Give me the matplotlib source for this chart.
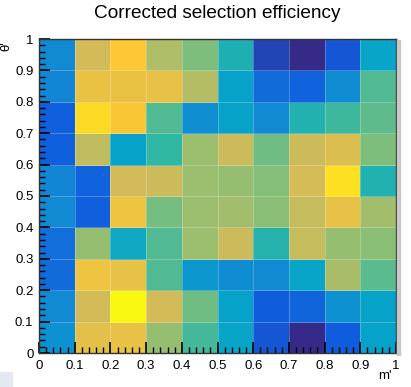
import numpy as np
import matplotlib
matplotlib.use("Agg")
import matplotlib.pyplot as plt
from matplotlib.colors import LinearSegmentedColormap
from matplotlib.ticker import MultipleLocator, FixedLocator
from matplotlib.patches import Rectangle

# ROOT kBird palette
bird_r = [0.2082, 0.0592, 0.0780, 0.0232, 0.1802, 0.5301, 0.8186, 0.9956, 0.9764]
bird_g = [0.1664, 0.3599, 0.5041, 0.6419, 0.7178, 0.7492, 0.7328, 0.7862, 0.9832]
bird_b = [0.5293, 0.8684, 0.8385, 0.7914, 0.6425, 0.4662, 0.3499, 0.1968, 0.0539]
stops = np.linspace(0, 1, 9)
cmap = LinearSegmentedColormap.from_list(
    "bird", list(zip(stops, zip(bird_r, bird_g, bird_b))), N=256)

m_edges = [0.0, 0.1, 0.2, 0.3, 0.4, 0.5, 0.6, 0.7, 0.8, 0.9, 1.0]
theta_edges = [0.0, 0.1, 0.2, 0.3, 0.4, 0.5, 0.6, 0.7, 0.8, 0.9, 1.0]

# rows: theta bins from bottom (0-0.1) to top (0.9-1.0); columns: m' bins
row0 = [0.31, 0.80, 0.81, 0.65, 0.53, 0.38, 0.11, 0.00, 0.13, 0.37]
row1 = [0.28, 0.75, 0.99, 0.75, 0.59, 0.37, 0.13, 0.16, 0.31, 0.37]
row2 = [0.18, 0.83, 0.81, 0.55, 0.33, 0.29, 0.28, 0.38, 0.68, 0.56]
row3 = [0.19, 0.65, 0.40, 0.55, 0.66, 0.74, 0.47, 0.73, 0.65, 0.63]
row4 = [0.28, 0.14, 0.83, 0.60, 0.66, 0.67, 0.63, 0.73, 0.81, 0.67]
row5 = [0.27, 0.15, 0.75, 0.74, 0.66, 0.65, 0.62, 0.76, 0.93, 0.46]
row6 = [0.14, 0.72, 0.37, 0.50, 0.66, 0.74, 0.59, 0.74, 0.78, 0.61]
row7 = [0.14, 0.92, 0.86, 0.55, 0.30, 0.37, 0.28, 0.46, 0.52, 0.57]
row8 = [0.27, 0.82, 0.82, 0.81, 0.70, 0.37, 0.18, 0.15, 0.29, 0.55]
row9 = [0.28, 0.75, 0.87, 0.69, 0.61, 0.45, 0.07, 0.00, 0.11, 0.38]

Z = np.array([row0, row1, row2, row3, row4, row5, row6, row7, row8, row9])

tick_vals = [0, 0.1, 0.2, 0.3, 0.4, 0.5, 0.6, 0.7, 0.8, 0.9, 1]
tick_labels = ["0", "0.1", "0.2", "0.3", "0.4", "0.5", "0.6", "0.7", "0.8", "0.9", "1"]

plt.rcParams['font.family'] = ['Liberation Sans', 'DejaVu Sans']

fig = plt.figure(figsize=(4.11, 3.87), dpi=100)
ax = fig.add_axes([39/411, 1 - 353/387, (396-39)/411, (353-39)/387])

ax.pcolormesh(m_edges, theta_edges, Z, cmap=cmap, vmin=0, vmax=1,
              edgecolor=(1, 1, 1, 0.25), linewidth=0.6)
ax.set_xlim(0, 1)
ax.set_ylim(0, 1)

ax.xaxis.set_major_locator(FixedLocator(tick_vals))
ax.yaxis.set_major_locator(FixedLocator(tick_vals))
ax.set_xticklabels(tick_labels)
ax.set_yticklabels(tick_labels)
ax.xaxis.set_minor_locator(MultipleLocator(0.02))
ax.yaxis.set_minor_locator(MultipleLocator(0.02))
ax.tick_params(which='both', direction='in', top=False, right=False,
               labelsize=9.5, color='black')
ax.tick_params(which='major', length=8, width=1.2, pad=4)
ax.tick_params(which='minor', length=4, width=1.0)
ax.tick_params(axis='x', which='major', pad=5)
for s in ax.spines.values():
    s.set_linewidth(1.0)
    s.set_color('#333333')

fig.text(217/411, 1 - 13/387, "Corrected selection efficiency",
         ha='center', va='center', fontsize=13.7)
fig.text(392/411, 1 - 376/387, "m'", ha='right', va='center', fontsize=9.5)
fig.text(6/411, 1 - 46/387, "θ'", ha='center', va='center', fontsize=9.5,
         rotation=90)

# right-edge shadow line and corner artifact
fig.patches.append(Rectangle((397/411, 1 - 355/387), 3/411, (355-40)/387,
                             transform=fig.transFigure, color='#c8c8c8', zorder=0))
fig.patches.append(Rectangle((0, 0), 12/411, 15/387,
                             transform=fig.transFigure, color='#e4e8f0', zorder=0))

fig.savefig("out.png", dpi=100)
